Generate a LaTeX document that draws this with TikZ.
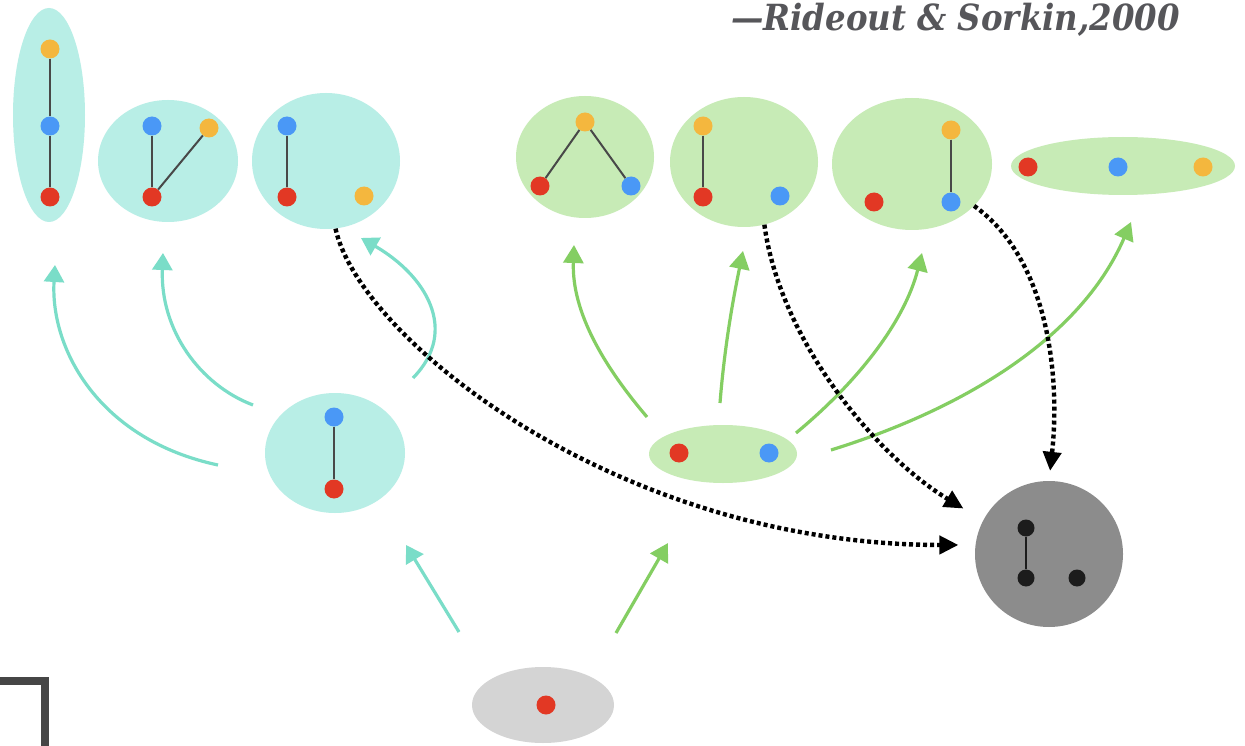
\documentclass[tikz,border=0pt]{standalone}
\usepackage{fontspec}
\usetikzlibrary{shapes.geometric,arrows.meta}
\newfontfamily\citefont{DejaVu Serif}

\definecolor{tealfill}{RGB}{184,238,230}
\definecolor{greenfill}{RGB}{199,235,182}
\definecolor{rootfill}{RGB}{212,212,212}
\definecolor{darkfill}{RGB}{140,140,140}
\definecolor{tealline}{RGB}{122,221,200}
\definecolor{greenline}{RGB}{132,206,98}
\definecolor{dotred}{RGB}{226,56,36}
\definecolor{dotblue}{RGB}{74,152,246}
\definecolor{dotyellow}{RGB}{244,183,62}
\definecolor{dotblack}{RGB}{28,28,28}
\definecolor{linkgray}{RGB}{72,72,72}
\definecolor{citegray}{RGB}{86,86,90}
\definecolor{bracketgray}{RGB}{70,70,70}

\begin{document}
\begin{tikzpicture}[x=1pt,y=-1pt,
  blob/.style={ellipse, inner sep=0pt, draw=none},
  tealblob/.style={blob, fill=tealfill},
  greenblob/.style={blob, fill=greenfill},
  dot/.style={circle, inner sep=0pt, minimum size=19pt},
  rdot/.style={dot, fill=dotred},
  bdot/.style={dot, fill=dotblue},
  ydot/.style={dot, fill=dotyellow},
  kdot/.style={dot, fill=dotblack, minimum size=17pt},
  link/.style={draw=linkgray, line width=2pt},
  tealarrow/.style={draw=tealline, line width=3.2pt, -{Triangle[length=17pt,width=20pt]}},
  greenarrow/.style={draw=greenline, line width=3.2pt, -{Triangle[length=18pt,width=20pt]}},
  dotarrow/.style={draw=black, line width=4.4pt, dash pattern=on 4pt off 3pt,
    -{Triangle[length=19pt,width=18pt]}}
]
\useasboundingbox (0,0) rectangle (1245,746);
\fill[white] (0,0) rectangle (1245,746);

% citation
\node[anchor=base east, inner sep=0pt, text=citegray,
  font=\citefont\bfseries\itshape\fontsize{36}{40}\selectfont] (cite) at (1180,31)
  {\scalebox{0.9}[1]{—Rideout \& Sorkin,2000}};

% three-element causal sets (teal family)
\node[tealblob, minimum width=72pt, minimum height=214pt] (t1) at (49,115) {};
\node[tealblob, minimum width=140pt, minimum height=122pt] (t2) at (168,161) {};
\node[tealblob, minimum width=148pt, minimum height=136pt] (t3) at (326,161) {};
% two-element chain
\node[tealblob, minimum width=140pt, minimum height=120pt] (tm) at (335,453) {};

% three-element causal sets (green family)
\node[greenblob, minimum width=138pt, minimum height=122pt] (g1) at (585,157) {};
\node[greenblob, minimum width=148pt, minimum height=130pt] (g2) at (744,162) {};
\node[greenblob, minimum width=160pt, minimum height=132pt] (g3) at (912,164) {};
\node[greenblob, minimum width=224pt, minimum height=58pt] (g4) at (1123,166) {};
% two-element antichain
\node[greenblob, minimum width=148pt, minimum height=58pt] (gm) at (723,454) {};

% single element
\node[blob, fill=rootfill, minimum width=142pt, minimum height=76pt] (root) at (543,705) {};
% gray target
\node[blob, fill=darkfill, minimum width=148pt, minimum height=146pt] (dark) at (1049,554) {};

% elements
\node[ydot] (y1) at (50,49) {};
\node[bdot] (b1) at (50,126) {};
\node[rdot] (r1) at (50,197) {};

\node[bdot] (b2) at (152,126) {};
\node[ydot] (y2) at (209,128) {};
\node[rdot] (r2) at (152,197) {};

\node[bdot] (b3) at (287,126) {};
\node[rdot] (r3) at (287,197) {};
\node[ydot] (y3) at (364,196) {};

\node[bdot] (bm) at (334,417) {};
\node[rdot] (rm) at (334,489) {};

\node[ydot] (y4) at (585,122) {};
\node[rdot] (r4) at (540,186) {};
\node[bdot] (b4) at (631,186) {};

\node[ydot] (y5) at (703,126) {};
\node[rdot] (r5) at (703,197) {};
\node[bdot] (b5) at (780,196) {};

\node[ydot] (y6) at (951,130) {};
\node[bdot] (b6) at (951,202) {};
\node[rdot] (r6) at (874,202) {};

\node[rdot] (r7) at (1028,167) {};
\node[bdot] (b7) at (1118,167) {};
\node[ydot] (y7) at (1203,167) {};

\node[rdot] (r8) at (679,453) {};
\node[bdot] (b8) at (769,453) {};

\node[rdot] (r9) at (546,705) {};

\node[kdot] (k1) at (1026,528) {};
\node[kdot] (k2) at (1026,578) {};
\node[kdot] (k3) at (1077,578) {};

% relations
\draw[link] (y1) -- (b1);
\draw[link] (b1) -- (r1);
\draw[link] (b2) -- (r2);
\draw[link] (r2) -- (y2);
\draw[link] (b3) -- (r3);
\draw[link] (bm) -- (rm);
\draw[link] (y4) -- (r4);
\draw[link] (y4) -- (b4);
\draw[link] (y5) -- (r5);
\draw[link] (y6) -- (b6);
\draw[link, line width=2.2pt, draw=dotblack] (k1) -- (k2);

% growth transitions: arrow ends
\coordinate (a1s) at (218,465);  \coordinate (a1e) at (55,265);
\coordinate (a2s) at (253,405);  \coordinate (a2e) at (163,253);
\coordinate (a3s) at (413,378);  \coordinate (a3e) at (361,238);
\coordinate (a4s) at (459,632);  \coordinate (a4e) at (406,545);
\coordinate (e1s) at (647,417);  \coordinate (e1e) at (574,245);
\coordinate (e2s) at (720,403);  \coordinate (e2e) at (743,251);
\coordinate (e3s) at (796,433);  \coordinate (e3e) at (922,253);
\coordinate (e4s) at (831,450);  \coordinate (e4e) at (1131,222);
\coordinate (e5s) at (616,633);  \coordinate (e5e) at (668,543);

% teal transitions
\draw[tealarrow] (a1s) .. controls (100,440) and (50,350) .. (a1e);
\draw[tealarrow] (a2s) .. controls (200,385) and (160,330) .. (a2e);
\draw[tealarrow] (a3s) .. controls (460,330) and (425,275) .. (a3e);
\draw[tealarrow] (a4s) -- (a4e);

% green transitions
\draw[greenarrow] (e1s) .. controls (590,350) and (572,300) .. (e1e);
\draw[greenarrow] (e2s) .. controls (725,340) and (735,290) .. (e2e);
\draw[greenarrow] (e3s) .. controls (860,380) and (905,320) .. (e3e);
\draw[greenarrow] (e4s) .. controls (960,410) and (1080,340) .. (e4e);
\draw[greenarrow] (e5s) -- (e5e);

% coarse-graining to the gray set
\draw[dotarrow, shorten >=17pt] (t3.-82) .. controls (360,340) and (620,545) .. (dark.173);
\draw[dotarrow, shorten >=23pt] (g2.-72) .. controls (780,340) and (875,455) .. (dark.153);
\draw[dotarrow, shorten >=10pt] (g3.-34) .. controls (1050,260) and (1060,380) .. (dark.north);

% frame corner
\draw[line width=8pt, draw=bracketgray, line join=miter] (0,681) -- (45,681) -- (45,750);
\end{tikzpicture}
\end{document}
